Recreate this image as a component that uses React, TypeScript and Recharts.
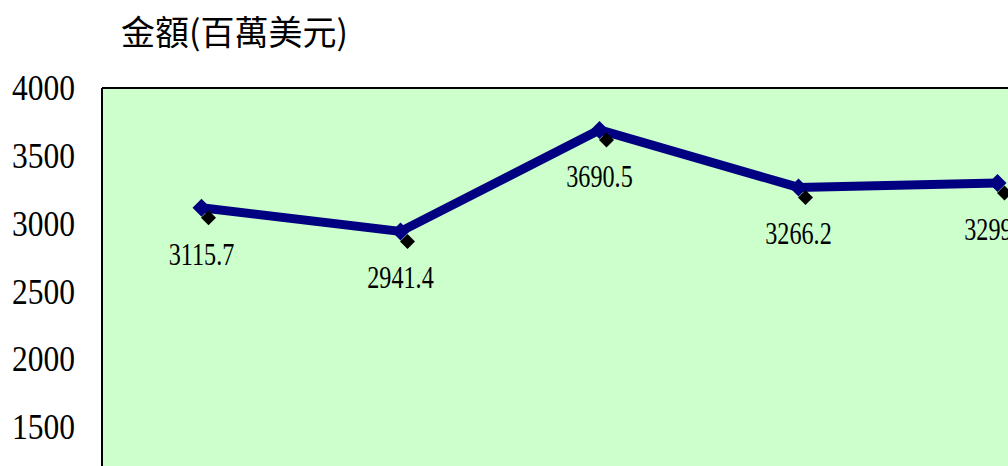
import React from "react";
import {
  LineChart,
  Line,
  XAxis,
  YAxis,
  CartesianGrid,
  ReferenceLine,
  LabelList,
} from "recharts";

const categories = ["1", "2", "3", "4", "5"];
const amounts = [3115.7, 2941.4, 3690.5, 3266.2, 3299.5];
const yTicks = [0, 500, 1000, 1500, 2000, 2500, 3000, 3500, 4000];
const title = "金額(百萬美元)";

const data = categories.map((c, i) => ({ name: c, value: amounts[i] }));

const NAVY = "#000080";
const SERIF = "'Liberation Serif', 'Times New Roman', serif";

const YTick = (props: any) => {
  const { x, y, payload } = props;
  return (
    <text
      transform={`translate(${x},${y}) scale(0.9,1)`}
      x={0}
      y={0}
      dy="0.35em"
      textAnchor="end"
      fontFamily={SERIF}
      fontSize={35}
      fill="#000"
    >
      {payload.value}
    </text>
  );
};

const BlueDiamond = (props: any) => {
  const { cx, cy } = props;
  if (cx == null || cy == null) return null;
  const h = 9;
  return (
    <path
      d={`M${cx},${cy - h} L${cx + h},${cy} L${cx},${cy + h} L${cx - h},${cy} Z`}
      fill={NAVY}
      stroke="none"
    />
  );
};

const ShadowDiamond = (props: any) => {
  const { cx, cy } = props;
  if (cx == null || cy == null) return null;
  const h = 7.5;
  const x = cx + 7;
  const y = cy + 10;
  return (
    <path
      d={`M${x},${y - h} L${x + h},${y} L${x},${y + h} L${x - h},${y} Z`}
      fill="#000"
      stroke="none"
    />
  );
};

const ValueLabel = (props: any) => {
  const { x, y, value } = props;
  return (
    <text
      transform={`translate(${x},${y + 46}) scale(0.78,1)`}
      x={0}
      y={0}
      dy="0.35em"
      textAnchor="middle"
      fontFamily={SERIF}
      fontSize={31}
      fill="#000"
    >
      {value}
    </text>
  );
};

export default function App() {
  return (
    <div
      style={{
        position: "absolute",
        left: 0,
        top: 0,
        width: 1008,
        height: 466,
        overflow: "hidden",
        background: "#fff",
      }}
    >
      <div
        style={{
          position: "absolute",
          left: 121,
          top: 14,
          fontFamily: "'Noto Sans CJK TC', 'Noto Sans CJK SC', sans-serif",
          fontSize: 34,
          lineHeight: "34px",
          letterSpacing: 0,
          color: "#000",
          whiteSpace: "nowrap",
        }}
      >
        {title}
      </div>
      <div style={{ position: "absolute", left: 0, top: 0 }}>
        <LineChart
          width={1110}
          height={680}
          data={data}
          margin={{ top: 88, right: 13, left: 0, bottom: 50 }}
        >
          <CartesianGrid
            fill="#CCFFCC"
            horizontal={false}
            vertical={false}
          />
          <XAxis dataKey="name" scale="band" hide />
          <YAxis
            width={102}
            domain={[0, 4000]}
            ticks={yTicks}
            interval={0}
            tickSize={0}
            tickMargin={27}
            tickLine={false}
            axisLine={{ stroke: "#000", strokeWidth: 2 }}
            tick={<YTick />}
          />
          <ReferenceLine y={4000} stroke="#000" strokeWidth={2} />
          <Line
            dataKey="value"
            stroke="none"
            dot={<ShadowDiamond />}
            activeDot={false}
            isAnimationActive={false}
          />
          <Line
            dataKey="value"
            stroke={NAVY}
            strokeWidth={9}
            strokeLinejoin="miter"
            dot={<BlueDiamond />}
            activeDot={false}
            isAnimationActive={false}
          >
            <LabelList dataKey="value" content={<ValueLabel />} />
          </Line>
        </LineChart>
      </div>
    </div>
  );
}
